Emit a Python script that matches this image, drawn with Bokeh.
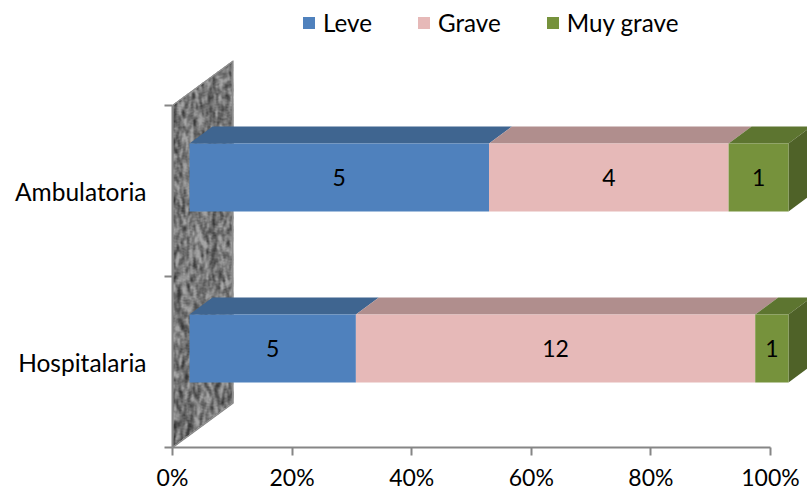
import numpy as np
from bokeh.embed import file_html
from bokeh.resources import INLINE
from bokeh.plotting import figure
from bokeh.models import FixedTicker, Legend, LegendItem, Range1d
from bokeh.core.properties import value

categories = ["Hospitalaria", "Ambulatoria"]
series_names = ["Leve", "Grave", "Muy grave"]
leve = [5, 5]
grave = [12, 4]
muy_grave = [1, 1]
x_ticks = [0, 20, 40, 60, 80, 100]
x_tick_labels = ["0%", "20%", "40%", "60%", "80%", "100%"]

front_colors = ["#4f81bd", "#e6b9b8", "#76923c"]
top_colors = ["#3f6590", "#b08e8d", "#5d7530"]
side_colors = ["#3f6590", "#b08e8d", "#4f6228"]

FONT = "Lato"
AX = "#868686"

# 5.98 px per x unit, 171 px per y unit
PX, PY = 5.98, 171.0
fig_w, fig_h = 807, 493
p = figure(width=fig_w, height=fig_h, output_backend="svg", toolbar_location=None,
           x_range=Range1d(0, (807 - 172) / PX), y_range=Range1d(0, 447 / PY),
           min_border_left=172, min_border_right=0, min_border_top=0, min_border_bottom=46,
           background_fill_color="white", border_fill_color="white", outline_line_color=None)
p.grid.visible = False

# textured back wall (deterministic texture)
wall_dx, wall_dy = 60 / PX, 44 / PY
H, W = 388, 61
yy, xx = np.mgrid[0:H, 0:W].astype(float)
n = np.modf(np.abs(np.sin(xx * 12.9898 + yy * 78.233)) * 43758.5453)[0]
sm = np.zeros_like(n)
for dy_ in range(-3, 4):
    for dx_ in range(-1, 2):
        sm += np.roll(np.roll(n, dy_, axis=0), dx_, axis=1)
sm /= 21.0
g = np.clip(118 + (sm - 0.5) * 380 + (n - 0.5) * 14, 55, 165)
img = np.zeros((H, W), dtype=np.uint32)
view = img.view(dtype=np.uint8).reshape((H, W, 4))
mask = (yy >= xx * 44 / 60) & (yy <= 342 + xx * 44 / 60)
view[..., 0] = g; view[..., 1] = g; view[..., 2] = g
view[..., 3] = np.where(mask, 255, 0)
p.image_rgba(image=[img], x=0, y=0, dw=W / PX, dh=H / PY)
p.patch([0, wall_dx, wall_dx, 0], [0, wall_dy, 2 + wall_dy, 2],
        fill_color=None, line_color="#8c8c8c", line_width=1.5)

# bars with depth
BAR_X0, BAR_K = 17 / PX, 5.99 / PX
centers = [0.579, 1.579]
bh = 68 / PY
bar_dx, bar_dy = 23 / PX, 17 / PY
series = [leve, grave, muy_grave]
totals = [sum(s[i] for s in series) for i in range(2)]
cum = [0, 0]
fronts = []
labels_x, labels_y, labels_t = [], [], []
for si, s in enumerate(series):
    left, right = [], []
    for i in range(2):
        a = BAR_X0 + BAR_K * 100 * cum[i] / totals[i]
        cum[i] += s[i]
        b = BAR_X0 + BAR_K * 100 * cum[i] / totals[i]
        left.append(a); right.append(b)
        labels_x.append((a + b) / 2); labels_y.append(centers[i]); labels_t.append(str(s[i]))
        t = centers[i] + bh / 2
        p.patch([a, a + bar_dx, b + bar_dx, b], [t, t + bar_dy, t + bar_dy, t],
                fill_color=top_colors[si], line_color=None)
        if si == 2:
            p.patch([b, b + bar_dx, b + bar_dx, b], [t - bh, t - bh + bar_dy, t + bar_dy, t],
                    fill_color=side_colors[si], line_color=None)
    r = p.hbar(y=centers, height=bh, left=left, right=right,
               fill_color=front_colors[si], line_color=None)
    fronts.append(r)

p.text(labels_x, labels_y, text=labels_t, text_font=value(FONT), text_font_size=value("23px"),
       text_align="center", text_baseline="middle", text_color="black")

# axes
xa = p.xaxis[0]
xa.ticker = FixedTicker(ticks=x_ticks)
xa.major_label_overrides = dict(zip(x_ticks, x_tick_labels))
xa.bounds = (0, 100)
xa.axis_line_color = AX; xa.axis_line_width = 2
xa.major_tick_line_color = AX; xa.major_tick_line_width = 2
xa.major_tick_out = 8; xa.major_tick_in = 0
xa.minor_tick_line_color = None
xa.major_label_standoff = 7
xa.major_label_text_font = FONT; xa.major_label_text_font_size = "23px"
xa.major_label_text_color = "black"

ya = p.yaxis[0]
ya.ticker = FixedTicker(ticks=[0.5, 1.5], minor_ticks=[0, 1, 2])
ya.major_label_overrides = {0.5: categories[0], 1.5: categories[1]}
ya.bounds = (0, 2)
ya.axis_line_color = AX; ya.axis_line_width = 2
ya.major_tick_line_color = None; ya.major_tick_out = 0; ya.major_tick_in = 0
ya.minor_tick_line_color = AX; ya.minor_tick_line_width = 2
ya.minor_tick_out = 8; ya.minor_tick_in = 0
ya.major_label_standoff = 18
ya.major_label_text_font = FONT; ya.major_label_text_font_size = "24.5px"
ya.major_label_text_color = "black"

# legend
legend = Legend(items=[LegendItem(label=n_, renderers=[r]) for n_, r in zip(series_names, fronts)],
                orientation="horizontal", location=(301 - 172, 447 - 37),
                spacing=44, glyph_width=15, glyph_height=15, label_standoff=7,
                padding=0, margin=0, border_line_color=None, background_fill_alpha=0,
                label_text_font=FONT, label_text_font_size="24.2px", label_text_color="black")
p.add_layout(legend)

open("out.html", "w").write(file_html(p, INLINE))
